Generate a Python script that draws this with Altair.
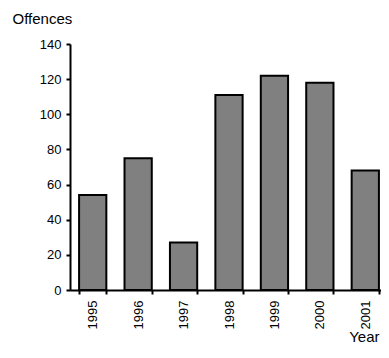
import altair as alt
import pandas as pd

years = ["1995", "1996", "1997", "1998", "1999", "2000", "2001"]
offences = [54, 75, 27, 111, 122, 118, 68]
y_ticks = [0, 20, 40, 60, 80, 100, 120, 140]

df = pd.DataFrame({"Year": years, "Offences": offences})

FONT = "Liberation Sans"

chart = alt.Chart(df).mark_bar(
    color="#808080", stroke="black", strokeWidth=2
).encode(
    x=alt.X(
        "Year:N",
        sort=years,
        scale=alt.Scale(paddingInner=0.4, paddingOuter=0.2, range=[0, 318]),
        axis=alt.Axis(
            title="Year",
            labelAngle=-90,
            labelAlign="right",
            labelBaseline="middle",
            labelPadding=6,
            tickBand="extent",
            tickSize=4,
            tickWidth=2,
            tickColor="black",
            domainColor="black",
            domainWidth=2,
            labelColor="black",
            labelFontSize=13,
            labelFont=FONT,
            titleFont=FONT,
            titleFontSize=15,
            titleFontWeight="normal",
            titleColor="black",
            titleAlign="right",
            titleBaseline="alphabetic",
            titleAnchor="end",
            titleX=309,
            titleY=51,
        ),
    ),
    y=alt.Y(
        "Offences:Q",
        scale=alt.Scale(domain=[0, 140], nice=False),
        axis=alt.Axis(
            title="Offences",
            values=y_ticks,
            grid=False,
            tickSize=4,
            tickWidth=2,
            tickColor="black",
            domainColor="black",
            domainWidth=2,
            labelColor="black",
            labelFontSize=13,
            labelFont=FONT,
            labelPadding=5,
            titleFont=FONT,
            titleFontSize=15,
            titleFontWeight="normal",
            titleColor="black",
            titleAngle=0,
            titleAlign="left",
            titleBaseline="alphabetic",
            titleX=-58,
            titleY=-21,
        ),
    ),
).properties(
    width=311,
    height=246,
    autosize=alt.AutoSizeParams(type="none"),
    padding={"left": 62, "top": 36, "right": 0, "bottom": 55},
).configure_view(stroke=None)

chart.save("out.html", embed_options={"renderer": "svg", "actions": False})
